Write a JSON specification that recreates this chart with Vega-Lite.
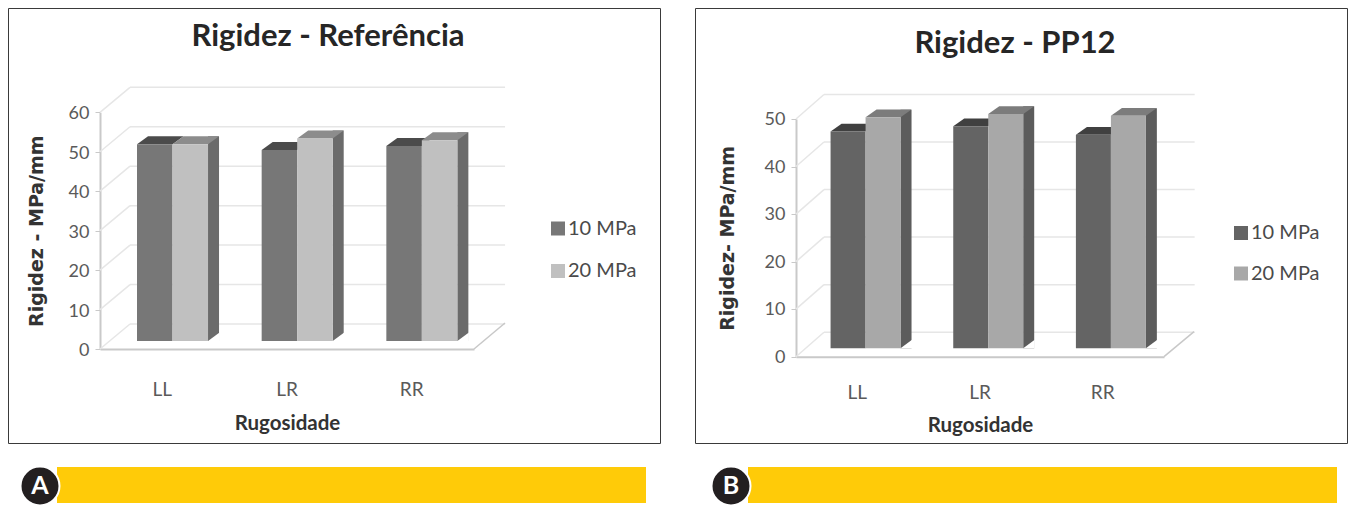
{
  "$schema": "https://vega.github.io/schema/vega-lite/v6.json",
  "padding": {"left": 7, "top": 7, "right": 0, "bottom": 0},
  "background": "white",
  "spacing": 33,
  "resolve": {"scale": {"color": "independent", "fill": "independent", "xOffset": "independent"}},
  "config": {"font": "Lato", "axis": {"grid": false}, "legend": {"labelFont": "Lato"}},
  "datasets": {
    "referencia": [
      {"Rugosidade": "LL", "Pressao": "10 MPa", "Rigidez": 49.9},
      {"Rugosidade": "LL", "Pressao": "20 MPa", "Rigidez": 49.9},
      {"Rugosidade": "LR", "Pressao": "10 MPa", "Rigidez": 48.4},
      {"Rugosidade": "LR", "Pressao": "20 MPa", "Rigidez": 51.3},
      {"Rugosidade": "RR", "Pressao": "10 MPa", "Rigidez": 49.4},
      {"Rugosidade": "RR", "Pressao": "20 MPa", "Rigidez": 50.9}
    ],
    "pp12": [
      {"Rugosidade": "LL", "Pressao": "10 MPa", "Rigidez": 45.6},
      {"Rugosidade": "LL", "Pressao": "20 MPa", "Rigidez": 48.6},
      {"Rugosidade": "LR", "Pressao": "10 MPa", "Rigidez": 46.7},
      {"Rugosidade": "LR", "Pressao": "20 MPa", "Rigidez": 49.3},
      {"Rugosidade": "RR", "Pressao": "10 MPa", "Rigidez": 44.9},
      {"Rugosidade": "RR", "Pressao": "20 MPa", "Rigidez": 48.9}
    ],
    "marcasA": [{"m": 0}, {"m": 10}, {"m": 20}, {"m": 30}, {"m": 40}, {"m": 50}, {"m": 60}],
    "marcasB": [{"m": 0}, {"m": 10}, {"m": 20}, {"m": 30}, {"m": 40}, {"m": 50}],
    "piso": [{"m": 0}],
    "letraA": [{"painel": "A"}],
    "letraB": [{"painel": "B"}]
  },
  "hconcat": [
    {
      "spacing": 18,
      "resolve": {"scale": {"color": "independent", "fill": "independent"}, "legend": {"color": "independent"}},
      "vconcat": [
        {
          "width": 652,
          "height": 435,
          "view": {"stroke": "#3a3a3a", "strokeWidth": 1, "fill": "white"},
          "title": {"text": "Rigidez - Referência", "frame": "group", "anchor": "middle", "offset": -45, "dx": -6, "fontSize": 31, "fontWeight": "bold", "font": "Lato", "color": "#262626"},
          "layer": [
            {
              "data": {"name": "marcasA"},
              "mark": {"type": "rule", "stroke": "#e6e6e6", "strokeWidth": 1.5, "yOffset": -25, "xOffset": 3.2, "x2Offset": 93.4},
              "encoding": {
                "x": {"datum": "LL", "type": "nominal", "bandPosition": 0},
                "x2": {"datum": "RR"},
                "y": {"field": "m", "type": "quantitative"}
              }
            },
            {
              "data": {"name": "marcasA"},
              "mark": {"type": "point", "shape": "M0 0L30 -25", "size": 4, "filled": false, "opacity": 1, "stroke": "#e6e6e6", "strokeWidth": 1.5, "xOffset": -26.8},
              "encoding": {
                "x": {"datum": "LL", "type": "nominal", "bandPosition": 0},
                "y": {"field": "m", "type": "quantitative"}
              }
            },
            {
              "data": {"name": "piso"},
              "mark": {"type": "point", "shape": "M0 0L31 -26", "size": 4, "filled": false, "opacity": 1, "stroke": "#c8c8c8", "strokeWidth": 1.5, "xOffset": 26.8},
              "encoding": {
                "x": {"datum": "RR", "type": "nominal", "bandPosition": 1},
                "y": {"field": "m", "type": "quantitative"}
              }
            },
            {
              "data": {"name": "referencia"},
              "transform": [{"filter": "datum.Pressao === '20 MPa'"}],
              "mark": {"type": "rule", "stroke": "#6b6b6b", "strokeWidth": 11, "xOffset": 51.2, "yOffset": -16, "y2Offset": -8},
              "encoding": {
                "x": {"field": "Rugosidade", "type": "nominal"},
                "y": {"field": "Rigidez", "type": "quantitative"},
                "y2": {"datum": 0}
              }
            },
            {
              "data": {"name": "referencia"},
              "transform": [{"filter": "datum.Pressao === '20 MPa'"}],
              "mark": {"type": "point", "shape": "M0 0L11.5 0L11.5 -8.5Z", "size": 4, "filled": true, "opacity": 1, "fill": "white", "stroke": null, "xOffset": 45.7, "yOffset": -8},
              "encoding": {
                "x": {"field": "Rugosidade", "type": "nominal"},
                "y": {"datum": 0, "type": "quantitative"}
              }
            },
            {
              "data": {"name": "referencia"},
              "mark": {"type": "point", "shape": "M-17.75 0L-6.75 -8L28.75 -8L17.75 0Z", "size": 4, "filled": true, "opacity": 1, "stroke": null, "yOffset": -8},
              "encoding": {
                "x": {"field": "Rugosidade", "type": "nominal"},
                "xOffset": {"field": "Pressao", "type": "nominal"},
                "y": {"field": "Rigidez", "type": "quantitative"},
                "fill": {"field": "Pressao", "type": "nominal", "legend": null, "scale": {"domain": ["20 MPa", "10 MPa"], "range": ["#8c8c8c", "#4b4b4b"]}}
              }
            },
            {
              "data": {"name": "referencia"},
              "mark": {"type": "bar", "yOffset": -8, "y2Offset": -8},
              "encoding": {
                "x": {
                  "field": "Rugosidade", "type": "nominal",
                  "scale": {"domain": ["LL", "LR", "RR"], "range": [92, 466], "paddingInner": 0.43, "paddingOuter": 0.215},
                  "axis": {"title": "Rugosidade", "offset": -94, "labelAngle": 0, "labelAlign": "center", "labelBaseline": "top", "tickSize": 0, "domainColor": "#c9c9c9", "domainWidth": 2, "labelColor": "#5a5a5a", "labelFontSize": 19, "labelPadding": 31, "titleFontSize": 20.5, "titleFontWeight": "bold", "titleColor": "#333333", "titlePadding": 14}
                },
                "xOffset": {"field": "Pressao", "type": "nominal", "scale": {"domain": ["10 MPa", "20 MPa"], "range": [10.2, 81.2]}},
                "y": {
                  "field": "Rigidez", "type": "quantitative", "stack": null,
                  "scale": {"domain": [0, 60], "range": [341, 104.3], "nice": false},
                  "axis": {"title": "Rigidez - MPa/mm", "offset": -92, "values": [0, 10, 20, 30, 40, 50, 60], "tickSize": 5, "tickColor": "#c9c9c9", "domainColor": "#c9c9c9", "domainWidth": 2, "labelColor": "#5a5a5a", "labelFontSize": 18, "labelPadding": 6, "labelOffset": 1.5, "titleFont": "DejaVu Sans", "titleFontSize": 19, "titleFontWeight": "bold", "titleColor": "#333333", "titlePadding": 22}
                },
                "y2": {"datum": 0},
                "color": {
                  "field": "Pressao", "type": "nominal",
                  "scale": {"domain": ["10 MPa", "20 MPa"], "range": ["#777777", "#c0c0c0"]},
                  "legend": {"title": null, "orient": "none", "legendX": 540, "legendY": 210.5, "symbolType": "square", "symbolSize": 196, "symbolStrokeWidth": 0, "labelFontSize": 20, "labelColor": "#4a4a4a", "rowPadding": 22.5, "labelOffset": 0}
                }
              }
            }
          ]
        },
        {
          "width": 638,
          "height": 44,
          "view": {"stroke": null},
          "data": {"name": "letraA"},
          "layer": [
            {
              "mark": {"type": "rect", "fill": "#ffcb08"},
              "encoding": {
                "x": {"datum": 49, "type": "quantitative", "axis": null, "scale": {"domain": [0, 638], "nice": false, "zero": false}},
                "x2": {"datum": 638},
                "y": {"datum": 40, "type": "quantitative", "axis": null, "scale": {"domain": [0, 44], "nice": false}},
                "y2": {"datum": 4}
              }
            },
            {
              "mark": {"type": "point", "shape": "circle", "filled": true, "size": 1520, "fill": "#231f20", "stroke": "white", "strokeWidth": 2, "opacity": 1},
              "encoding": {
                "x": {"datum": 32, "type": "quantitative", "axis": null},
                "y": {"datum": 21, "type": "quantitative", "axis": null}
              }
            },
            {
              "mark": {"type": "text", "fill": "white", "fontSize": 25, "fontWeight": "bold", "font": "Lato", "align": "center", "baseline": "middle"},
              "encoding": {
                "x": {"datum": 32, "type": "quantitative", "axis": null},
                "y": {"datum": 21, "type": "quantitative", "axis": null},
                "text": {"field": "painel", "type": "nominal"}
              }
            }
          ]
        }
      ]
    },
    {
      "spacing": 18,
      "resolve": {"scale": {"color": "independent", "fill": "independent"}, "legend": {"color": "independent"}},
      "vconcat": [
        {
          "width": 652,
          "height": 435,
          "view": {"stroke": "#3a3a3a", "strokeWidth": 1, "fill": "white"},
          "title": {"text": "Rigidez - PP12", "frame": "group", "anchor": "middle", "offset": -52, "dx": -6, "fontSize": 31, "fontWeight": "bold", "font": "Lato", "color": "#262626"},
          "layer": [
            {
              "data": {"name": "marcasB"},
              "mark": {"type": "rule", "stroke": "#e6e6e6", "strokeWidth": 1.5, "yOffset": -24.5, "xOffset": 1.6, "x2Offset": 92},
              "encoding": {
                "x": {"datum": "LL", "type": "nominal", "bandPosition": 0},
                "x2": {"datum": "RR"},
                "y": {"field": "m", "type": "quantitative"}
              }
            },
            {
              "data": {"name": "marcasB"},
              "mark": {"type": "point", "shape": "M0 0L28 -24.5", "size": 4, "filled": false, "opacity": 1, "stroke": "#e6e6e6", "strokeWidth": 1.5, "xOffset": -26.4},
              "encoding": {
                "x": {"datum": "LL", "type": "nominal", "bandPosition": 0},
                "y": {"field": "m", "type": "quantitative"}
              }
            },
            {
              "data": {"name": "piso"},
              "mark": {"type": "point", "shape": "M0 0L30 -25", "size": 4, "filled": false, "opacity": 1, "stroke": "#c8c8c8", "strokeWidth": 1.5, "xOffset": 26.4},
              "encoding": {
                "x": {"datum": "RR", "type": "nominal", "bandPosition": 1},
                "y": {"field": "m", "type": "quantitative"}
              }
            },
            {
              "data": {"name": "pp12"},
              "transform": [{"filter": "datum.Pressao === '20 MPa'"}],
              "mark": {"type": "rule", "stroke": "#5c5c5c", "strokeWidth": 11, "xOffset": 48.7, "yOffset": -16, "y2Offset": -8.4},
              "encoding": {
                "x": {"field": "Rugosidade", "type": "nominal"},
                "y": {"field": "Rigidez", "type": "quantitative"},
                "y2": {"datum": 0}
              }
            },
            {
              "data": {"name": "pp12"},
              "transform": [{"filter": "datum.Pressao === '20 MPa'"}],
              "mark": {"type": "point", "shape": "M0 0L11.5 0L11.5 -8.5Z", "size": 4, "filled": true, "opacity": 1, "fill": "white", "stroke": null, "xOffset": 43.2, "yOffset": -8.4},
              "encoding": {
                "x": {"field": "Rugosidade", "type": "nominal"},
                "y": {"datum": 0, "type": "quantitative"}
              }
            },
            {
              "data": {"name": "pp12"},
              "mark": {"type": "point", "shape": "M-17.5 0L-6.5 -7.8L28.5 -7.8L17.5 0Z", "size": 4, "filled": true, "opacity": 1, "stroke": null, "yOffset": -8.4},
              "encoding": {
                "x": {"field": "Rugosidade", "type": "nominal"},
                "xOffset": {"field": "Pressao", "type": "nominal"},
                "y": {"field": "Rigidez", "type": "quantitative"},
                "fill": {"field": "Pressao", "type": "nominal", "legend": null, "scale": {"domain": ["20 MPa", "10 MPa"], "range": ["#7c7c7c", "#404040"]}}
              }
            },
            {
              "data": {"name": "pp12"},
              "mark": {"type": "bar", "yOffset": -8.4, "y2Offset": -8.4},
              "encoding": {
                "x": {
                  "field": "Rugosidade", "type": "nominal",
                  "scale": {"domain": ["LL", "LR", "RR"], "range": [101, 469], "paddingInner": 0.43, "paddingOuter": 0.215},
                  "axis": {"title": "Rugosidade", "offset": -86.3, "labelAngle": 0, "labelAlign": "center", "labelBaseline": "top", "tickSize": 0, "domainColor": "#c9c9c9", "domainWidth": 2, "labelColor": "#5a5a5a", "labelFontSize": 19, "labelPadding": 27, "titleFontSize": 20.5, "titleFontWeight": "bold", "titleColor": "#333333", "titlePadding": 12.5}
                },
                "xOffset": {"field": "Pressao", "type": "nominal", "scale": {"domain": ["10 MPa", "20 MPa"], "range": [8.2, 78.2]}},
                "y": {
                  "field": "Rigidez", "type": "quantitative", "stack": null,
                  "scale": {"domain": [0, 50], "range": [348.7, 111], "nice": false},
                  "axis": {"title": "Rigidez- MPa/mm", "offset": -101, "values": [0, 10, 20, 30, 40, 50], "tickSize": 5, "tickColor": "#c9c9c9", "domainColor": "#c9c9c9", "domainWidth": 2, "labelColor": "#5a5a5a", "labelFontSize": 18, "labelPadding": 6, "labelOffset": 0.5, "titleFont": "DejaVu Sans", "titleFontSize": 19, "titleFontWeight": "bold", "titleColor": "#333333", "titlePadding": 27}
                },
                "y2": {"datum": 0},
                "color": {
                  "field": "Pressao", "type": "nominal",
                  "scale": {"domain": ["10 MPa", "20 MPa"], "range": ["#646464", "#a8a8a8"]},
                  "legend": {"title": null, "orient": "none", "legendX": 536, "legendY": 215, "symbolType": "square", "symbolSize": 196, "symbolStrokeWidth": 0, "labelFontSize": 20, "labelColor": "#4a4a4a", "rowPadding": 20.5, "labelOffset": 0}
                }
              }
            }
          ]
        },
        {
          "width": 642,
          "height": 44,
          "view": {"stroke": null},
          "data": {"name": "letraB"},
          "layer": [
            {
              "mark": {"type": "rect", "fill": "#ffcb08"},
              "encoding": {
                "x": {"datum": 53, "type": "quantitative", "axis": null, "scale": {"domain": [0, 642], "nice": false, "zero": false}},
                "x2": {"datum": 642},
                "y": {"datum": 40, "type": "quantitative", "axis": null, "scale": {"domain": [0, 44], "nice": false}},
                "y2": {"datum": 4}
              }
            },
            {
              "mark": {"type": "point", "shape": "circle", "filled": true, "size": 1520, "fill": "#231f20", "stroke": "white", "strokeWidth": 2, "opacity": 1},
              "encoding": {
                "x": {"datum": 36, "type": "quantitative", "axis": null},
                "y": {"datum": 21, "type": "quantitative", "axis": null}
              }
            },
            {
              "mark": {"type": "text", "fill": "white", "fontSize": 25, "fontWeight": "bold", "font": "Lato", "align": "center", "baseline": "middle"},
              "encoding": {
                "x": {"datum": 36, "type": "quantitative", "axis": null},
                "y": {"datum": 21, "type": "quantitative", "axis": null},
                "text": {"field": "painel", "type": "nominal"}
              }
            }
          ]
        }
      ]
    }
  ]
}
